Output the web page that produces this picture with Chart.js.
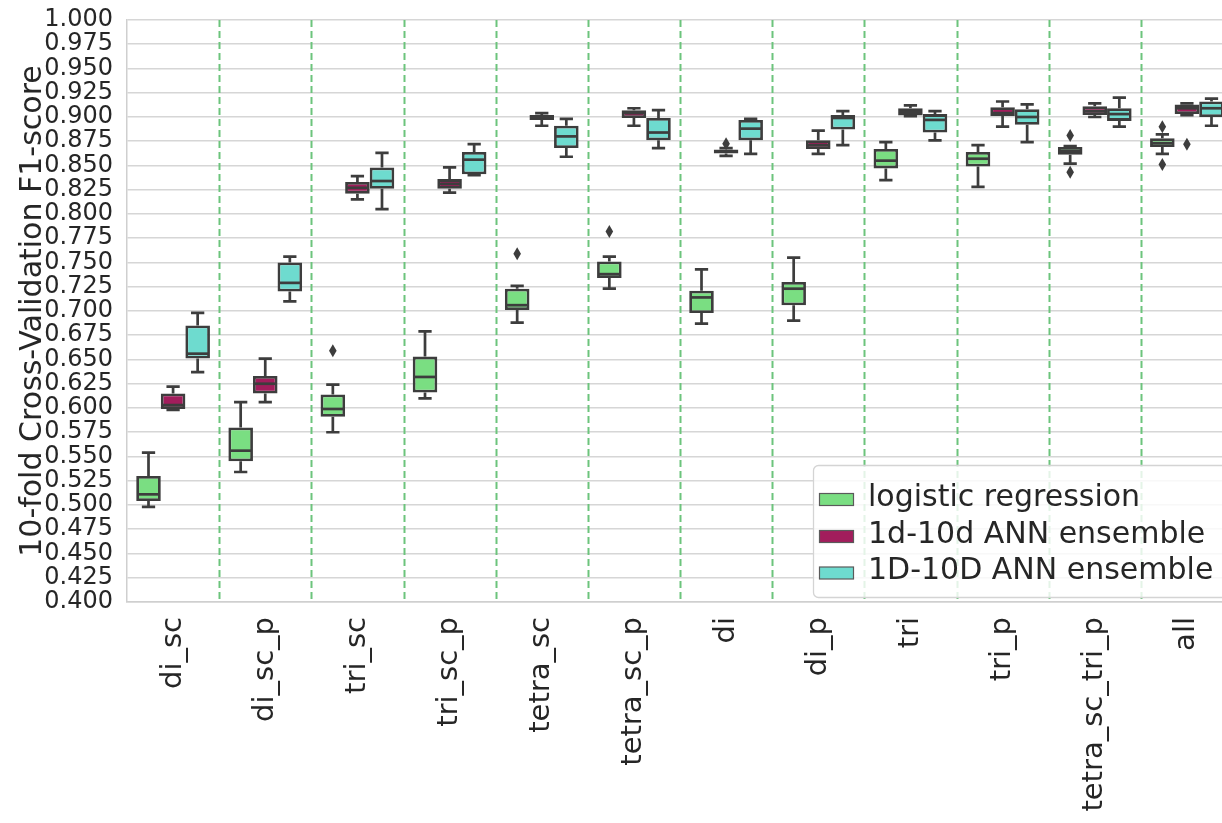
<!DOCTYPE html>
<html>
<head>
<meta charset="utf-8">
<script src="https://cdn.jsdelivr.net/npm/chart.js@4.4.1/dist/chart.umd.min.js"></script>
<style>
  html, body { margin: 0; padding: 0; background: #ffffff; overflow: hidden; }
  #wrap { width: 1240px; height: 823px; }
</style>
</head>
<body>
<div id="wrap"><canvas id="chart" width="1240" height="823"></canvas></div>
<script>
// Feature sets on the x axis
const categories = ['di_sc', 'di_sc_p', 'tri_sc', 'tri_sc_p', 'tetra_sc', 'tetra_sc_p',
                    'di', 'di_p', 'tri', 'tri_p', 'tetra_sc_tri_p', 'all'];

const seriesNames = ['logistic regression', '1d-10d ANN ensemble', '1D-10D ANN ensemble'];

// Box summaries per feature set: [lower whisker, Q1, median, Q3, upper whisker]
const logisticRegression = [
  [0.498, 0.504, 0.511, 0.530, 0.554],
  [0.534, 0.545, 0.556, 0.580, 0.606],
  [0.575, 0.591, 0.599, 0.614, 0.624],
  [0.610, 0.616, 0.632, 0.653, 0.679],
  [0.688, 0.701, 0.706, 0.723, 0.726],
  [0.723, 0.734, 0.738, 0.751, 0.756],
  [0.687, 0.698, 0.714, 0.721, 0.743],
  [0.690, 0.706, 0.723, 0.730, 0.755],
  [0.835, 0.847, 0.855, 0.867, 0.874],
  [0.828, 0.849, 0.857, 0.864, 0.871],
  [0.852, 0.861, 0.865, 0.869, 0.870],
  [0.862, 0.869, 0.873, 0.878, 0.882]
];
const annLower = [
  [0.598, 0.599, 0.603, 0.615, 0.622],
  [0.606, 0.615, 0.625, 0.633, 0.651],
  [0.815, 0.821, 0.827, 0.833, 0.839],
  [0.822, 0.826, 0.831, 0.836, 0.848],
  [0.891, 0.897, 0.900, 0.902, 0.904],
  [0.891, 0.899, 0.904, 0.907, 0.909],
  [0.860, 0.8625, 0.8645, 0.8665, 0.868],
  [0.862, 0.867, 0.871, 0.876, 0.886],
  [0.901, 0.9015, 0.9055, 0.909, 0.912],
  [0.890, 0.901, 0.904, 0.910, 0.916],
  [0.900, 0.902, 0.906, 0.911, 0.914],
  [0.902, 0.903, 0.909, 0.913, 0.914]
];
const annUpper = [
  [0.637, 0.651, 0.656, 0.685, 0.698],
  [0.710, 0.720, 0.729, 0.750, 0.756],
  [0.805, 0.826, 0.834, 0.848, 0.863],
  [0.840, 0.841, 0.856, 0.864, 0.872],
  [0.859, 0.868, 0.880, 0.891, 0.898],
  [0.868, 0.876, 0.884, 0.899, 0.907],
  [0.862, 0.876, 0.888, 0.897, 0.898],
  [0.871, 0.887, 0.899, 0.902, 0.906],
  [0.876, 0.884, 0.897, 0.903, 0.906],
  [0.874, 0.892, 0.900, 0.908, 0.913],
  [0.890, 0.896, 0.903, 0.909, 0.920],
  [0.891, 0.900, 0.909, 0.916, 0.919]
];

// Fliers beyond the whiskers, one list per feature set
const logisticOutliers = [[], [], [0.659], [], [0.759], [0.782], [], [], [], [], [0.881, 0.843], [0.890, 0.851]];
const annLowerOutliers = [[], [], [], [], [], [], [0.8725], [], [], [], [], [0.872]];
const annUpperOutliers = [[], [], [], [], [], [], [], [], [], [], [], []];

// Y axis range and tick step
const yMin = 0.400, yMax = 1.000, yStep = 0.025;

const seriesColors = ['#7ade82', '#a21d5c', '#6edbcf'];
const lineColor = '#3d3d3d';
const FONT = "'DejaVu Sans', 'Liberation Sans', sans-serif";

const summaries = [logisticRegression, annLower, annUpper];
const outliers = [logisticOutliers, annLowerOutliers, annUpperOutliers];

const datasets = summaries.map((rows, k) => ({
  label: seriesNames[k],
  data: rows.map(r => [r[1], r[3]]),
  summary: rows,
  fliers: outliers[k],
  backgroundColor: seriesColors[k],
  borderColor: lineColor,
  borderWidth: 2.8,
  borderSkipped: false,
  categoryPercentage: 0.8,
  barPercentage: 1.0
}));

// Dashed separators between feature sets, drawn behind the boxes
const separatorPlugin = {
  id: 'separators',
  beforeDatasetsDraw(chart) {
    const { ctx, chartArea, scales: { x } } = chart;
    ctx.save();
    ctx.strokeStyle = '#6cc47c';
    ctx.lineWidth = 2;
    ctx.setLineDash([7, 4]);
    for (let i = 0; i < categories.length - 1; i++) {
      const px = Math.round((x.getPixelForValue(i) + x.getPixelForValue(i + 1)) / 2) + 0.5;
      ctx.beginPath();
      ctx.moveTo(px, chartArea.top);
      ctx.lineTo(px, chartArea.bottom);
      ctx.stroke();
    }
    ctx.restore();
  }
};

// Whiskers, caps, medians and fliers on top of the IQR bars
const boxPartsPlugin = {
  id: 'boxParts',
  afterDatasetsDraw(chart) {
    const { ctx, scales: { y } } = chart;
    ctx.save();
    ctx.strokeStyle = lineColor;
    ctx.fillStyle = lineColor;
    ctx.lineWidth = 2.7;
    ctx.lineCap = 'butt';
    chart.data.datasets.forEach((ds, di) => {
      const meta = chart.getDatasetMeta(di);
      meta.data.forEach((bar, i) => {
        const s = ds.summary[i];
        const cx = bar.x;
        const w = bar.width;
        const cap = w * 0.27;
        const pLo = y.getPixelForValue(s[0]);
        const pQ1 = y.getPixelForValue(s[1]);
        const pMed = y.getPixelForValue(s[2]);
        const pQ3 = y.getPixelForValue(s[3]);
        const pHi = y.getPixelForValue(s[4]);
        ctx.beginPath();
        ctx.moveTo(cx, pQ1); ctx.lineTo(cx, pLo);
        ctx.moveTo(cx - cap, pLo); ctx.lineTo(cx + cap, pLo);
        ctx.moveTo(cx, pQ3); ctx.lineTo(cx, pHi);
        ctx.moveTo(cx - cap, pHi); ctx.lineTo(cx + cap, pHi);
        ctx.stroke();
        ctx.beginPath();
        ctx.moveTo(cx - w / 2 + 1, pMed); ctx.lineTo(cx + w / 2 - 1, pMed);
        ctx.stroke();
        ds.fliers[i].forEach(v => {
          const py = y.getPixelForValue(v);
          ctx.beginPath();
          ctx.moveTo(cx, py - 6.5);
          ctx.lineTo(cx + 3.8, py);
          ctx.lineTo(cx, py + 6.5);
          ctx.lineTo(cx - 3.8, py);
          ctx.closePath();
          ctx.fill();
        });
      });
    });
    ctx.restore();
  }
};

// Legend box in the lower right of the plot
const legendBoxPlugin = {
  id: 'legendBox',
  afterDraw(chart) {
    const { ctx } = chart;
    ctx.save();
    const bx = 813.5, by = 465.5, bw = 440, bh = 132, r = 5;
    ctx.beginPath();
    ctx.moveTo(bx + r, by);
    ctx.lineTo(bx + bw - r, by);
    ctx.arcTo(bx + bw, by, bx + bw, by + r, r);
    ctx.lineTo(bx + bw, by + bh - r);
    ctx.arcTo(bx + bw, by + bh, bx + bw - r, by + bh, r);
    ctx.lineTo(bx + r, by + bh);
    ctx.arcTo(bx, by + bh, bx, by + bh - r, r);
    ctx.lineTo(bx, by + r);
    ctx.arcTo(bx, by, bx + r, by, r);
    ctx.closePath();
    ctx.fillStyle = 'rgba(255,255,255,0.82)';
    ctx.fill();
    ctx.strokeStyle = '#d4d4d4';
    ctx.lineWidth = 1.3;
    ctx.stroke();
    const baselines = [505.5, 542.5, 579];
    ctx.font = '30px ' + FONT;
    ctx.textBaseline = 'alphabetic';
    ctx.textAlign = 'left';
    seriesNames.forEach((name, k) => {
      const b = baselines[k];
      ctx.fillStyle = seriesColors[k];
      ctx.fillRect(819.5, b - 12, 34, 12);
      ctx.strokeStyle = '#5a5a5a';
      ctx.lineWidth = 1.2;
      ctx.strokeRect(819.5, b - 12, 34, 12);
      ctx.fillStyle = '#262626';
      ctx.fillText(name, 868, b);
    });
    ctx.restore();
  }
};

new Chart(document.getElementById('chart'), {
  type: 'bar',
  data: { labels: categories, datasets },
  plugins: [separatorPlugin, boxPartsPlugin, legendBoxPlugin],
  options: {
    responsive: false,
    animation: false,
    layout: { padding: { top: 20, right: 7, left: 0, bottom: 0 } },
    plugins: { legend: { display: false }, tooltip: { enabled: false } },
    scales: {
      x: {
        grid: { display: false, drawTicks: false },
        border: { display: true, color: '#cfcfcf', width: 1.5 },
        ticks: {
          autoSkip: false,
          minRotation: 90,
          maxRotation: 90,
          padding: 15,
          color: '#262626',
          font: { family: FONT, size: 29 }
        },
        afterFit(scale) {
          scale.height = 221;
          scale.paddingLeft = 0;
          scale.paddingRight = 0;
        }
      },
      y: {
        min: yMin,
        max: yMax,
        grid: { color: '#d6d6d6', lineWidth: 1.6, drawTicks: false },
        border: { display: true, color: '#cfcfcf', width: 1.5 },
        ticks: {
          stepSize: yStep,
          autoSkip: false,
          padding: 14,
          color: '#262626',
          font: { family: FONT, size: 24, lineHeight: 1 },
          callback: v => Number(v).toFixed(3)
        },
        title: {
          display: true,
          text: '10-fold Cross-Validation F1-score',
          color: '#262626',
          font: { family: FONT, size: 30 },
          padding: { top: 15, bottom: 0 }
        },
        afterFit(scale) {
          scale.width = 127;
          scale.paddingTop = 0;
          scale.paddingBottom = 0;
        }
      }
    }
  }
});
</script>
</body>
</html>
